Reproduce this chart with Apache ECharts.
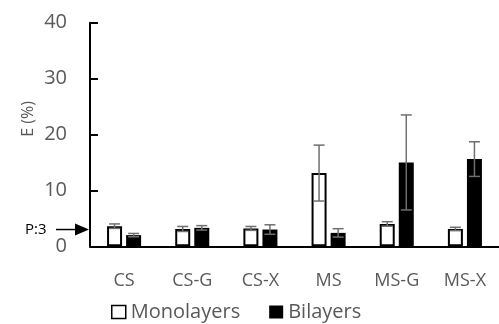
<!DOCTYPE html>
<html>
<head>
<meta charset="utf-8">
<script src="https://cdn.jsdelivr.net/npm/echarts@6/dist/echarts.min.js"></script>
<style>
  html, body { margin: 0; padding: 0; background: #fff; }
  #chart { width: 499px; height: 324px; }
</style>
</head>
<body>
<div id="chart"></div>
<script>
// Categories and measured values (mean and standard deviation, %)
const categories = ['CS', 'CS-G', 'CS-X', 'MS', 'MS-G', 'MS-X'];
const monoMean = [3.6, 3.1, 3.2, 13.1, 4.0, 3.1];
const monoSd   = [0.4, 0.45, 0.35, 5.0, 0.4, 0.3];
const biMean   = [2.0, 3.3, 3.0, 2.4, 15.0, 15.6];
const biSd     = [0.3, 0.4, 0.85, 0.75, 8.5, 3.1];
const yTicks = [0, 10, 20, 30, 40];
const markerValue = 3;
const markerLabel = 'P:3';

const FONT = 'Open Sans';
const BAR_W = 0.22;   // bar width as a share of the category band
const BAR_GAP = 0.27; // gap between bars as a share of bar width

const chart = echarts.init(document.getElementById('chart'));

function errorSeries(name, means, sds, side) {
  return {
    type: 'custom',
    name: name + ' SD',
    silent: true,
    z: 10,
    data: means.map((m, i) => [i, m, sds[i]]),
    renderItem(params, api) {
      const band = api.size([1, 0])[0];
      const bw = band * BAR_W;
      const off = side * (bw + bw * BAR_GAP) / 2;
      const top = api.coord([api.value(0), api.value(1) + api.value(2)]);
      const bot = api.coord([api.value(0), api.value(1) - api.value(2)]);
      const x = top[0] + off;
      const cap = 5.5;
      const style = { stroke: '#6f6f6f', lineWidth: 1.5 };
      return {
        type: 'group',
        children: [
          { type: 'line', shape: { x1: x, y1: top[1], x2: x, y2: bot[1] }, style },
          { type: 'line', shape: { x1: x - cap, y1: top[1], x2: x + cap, y2: top[1] }, style },
          { type: 'line', shape: { x1: x - cap, y1: bot[1], x2: x + cap, y2: bot[1] }, style }
        ]
      };
    }
  };
}

const option = {
  animation: false,
  textStyle: { fontFamily: FONT },
  grid: { left: 90, right: 0, top: 22.7, bottom: 77.7 },
  legend: {
    left: 106, top: 296,
    itemWidth: 14, itemHeight: 13, itemGap: 29,
    icon: 'rect',
    textStyle: { fontFamily: FONT, fontSize: 20, lineHeight: 22, color: '#595959' },
    data: [
      { name: 'Monolayers', itemStyle: { color: '#fff', borderColor: '#000', borderWidth: 1.5 } },
      { name: 'Bilayers', itemStyle: { color: '#000', borderColor: '#000', borderWidth: 0 } }
    ]
  },
  xAxis: {
    type: 'category',
    data: categories,
    axisLine: { lineStyle: { color: '#000', width: 2 } },
    axisTick: { inside: true, length: 8, lineStyle: { color: '#000', width: 2 } },
    axisLabel: { color: '#595959', fontSize: 18, fontFamily: FONT, margin: 26 }
  },
  yAxis: {
    type: 'value',
    min: yTicks[0], max: yTicks[yTicks.length - 1], interval: 10,
    axisLine: { show: true, lineStyle: { color: '#000', width: 2 } },
    axisTick: { show: true, inside: true, length: 8, lineStyle: { color: '#000', width: 2 } },
    splitLine: { show: false },
    axisLabel: { color: '#595959', fontSize: 20, fontFamily: FONT, margin: 23 }
  },
  series: [
    {
      name: 'Monolayers', type: 'bar', data: monoMean,
      barWidth: (BAR_W * 100) + '%', barGap: (BAR_GAP * 100) + '%',
      itemStyle: { color: '#fff', borderColor: '#000', borderWidth: 2 }
    },
    {
      name: 'Bilayers', type: 'bar', data: biMean,
      barWidth: (BAR_W * 100) + '%', barGap: (BAR_GAP * 100) + '%',
      itemStyle: { color: '#000' }
    },
    errorSeries('Monolayers', monoMean, monoSd, -1),
    errorSeries('Bilayers', biMean, biSd, 1)
  ]
};

chart.setOption(option);

// Axis title and the arrow marking the reference level on the value axis
const yMark = chart.convertToPixel({ yAxisIndex: 0 }, markerValue);
const x0 = chart.convertToPixel({ xAxisIndex: 0 }, 0);
const x1 = chart.convertToPixel({ xAxisIndex: 0 }, 1);
const axisX = x0 - (x1 - x0) / 2;
chart.setOption({
  graphic: [
    {
      type: 'text', x: 28, y: 119, rotation: Math.PI / 2,
      style: { text: 'E (%)', fill: '#595959', fontSize: 16, fontFamily: FONT, align: 'center', verticalAlign: 'middle' }
    },
    {
      type: 'text', x: 25, y: yMark,
      style: { text: markerLabel, fill: '#000', fontSize: 15, fontFamily: FONT, align: 'left', verticalAlign: 'middle' }
    },
    {
      type: 'line', shape: { x1: 56, y1: yMark, x2: 76, y2: yMark },
      style: { stroke: '#000', lineWidth: 1.5 }
    },
    {
      type: 'polygon', shape: { points: [[axisX - 1, yMark], [axisX - 15, yMark - 6], [axisX - 15, yMark + 6]] },
      style: { fill: '#000' }
    }
  ]
});
</script>
</body>
</html>
